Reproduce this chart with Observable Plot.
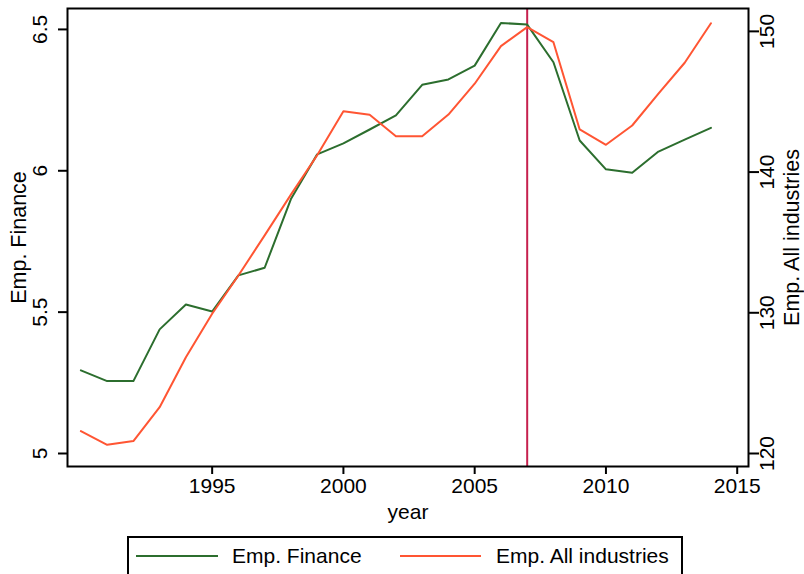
<!DOCTYPE html>
<html>
<head>
<meta charset="utf-8">
<script src="https://cdn.jsdelivr.net/npm/d3@7"></script>
<script src="https://cdn.jsdelivr.net/npm/@observablehq/plot@0.6"></script>
<style>
  html, body { margin: 0; padding: 0; background: #fff; }
  #chart svg { display: block; }
  #legend { display: block; }
</style>
</head>
<body>
<div id="chart"></div>
<svg id="legend" width="804" height="42"></svg>
<script>
// ---- data ----
const years = [1990, 1991, 1992, 1993, 1994, 1995, 1996, 1997, 1998, 1999,
               2000, 2001, 2002, 2003, 2004, 2005, 2006, 2007, 2008, 2009,
               2010, 2011, 2012, 2013, 2014];
const empFinance = [5.294, 5.256, 5.256, 5.439, 5.527, 5.502, 5.630, 5.657, 5.900, 6.058,
                    6.097, 6.146, 6.196, 6.304, 6.323, 6.372, 6.523, 6.517, 6.384, 6.107,
                    6.005, 5.993, 6.068, 6.110, 6.152];
const empAll = [121.59, 120.62, 120.88, 123.29, 126.84, 129.93, 132.65, 135.5, 138.4, 141.2,
                144.33, 144.07, 142.55, 142.55, 144.09, 146.28, 148.95, 150.30, 149.23, 143.03,
                141.94, 143.31, 145.57, 147.77, 150.58];
const xTicks = [1995, 2000, 2005, 2010, 2015];
const leftTicks = [5, 5.5, 6, 6.5];
const rightTicks = [120, 130, 140, 150];
const markerYear = [2007];
const seriesNames = ["Emp. Finance", "Emp. All industries"];
const colors = ["#2c6e2e", "#ff5533"];
const ruleColor = "#c6204e";

// map the right-hand (All industries) values onto the left scale
const toLeft = v => 5 + (v - 120) * 0.04977;

const rows = years.map((y, i) => ({year: y, fin: empFinance[i], all: toLeft(empAll[i])}));

const font = "'Liberation Sans', Arial, Helvetica, sans-serif";

const chart = Plot.plot({
  width: 804,
  height: 532,
  marginLeft: 67,
  marginRight: 56,
  marginTop: 8,
  marginBottom: 66,
  style: {fontFamily: font, fontSize: "21px", color: "#000", background: "#fff"},
  x: {domain: [1989.49, 2015.43]},
  y: {domain: [4.954, 6.574]},
  marks: [
    Plot.axisX({ticks: xTicks, tickSize: 8, tickPadding: 4, tickFormat: d => String(d),
                label: null, fontSize: 21, strokeWidth: 2}),
    Plot.axisY({anchor: "left", ticks: leftTicks, tickSize: 9, tickFormat: () => "",
                label: null, strokeWidth: 2}),
    Plot.axisY({anchor: "right", ticks: rightTicks.map(toLeft), tickSize: 10, tickFormat: () => "",
                label: null, strokeWidth: 2}),
    // rotated tick labels
    Plot.text(leftTicks, {y: d => d, text: d => String(d), frameAnchor: "left", dx: -20.5,
                          rotate: -90, lineAnchor: "bottom", textAnchor: "middle", fontSize: 21, fill: "#000"}),
    Plot.text(rightTicks, {y: d => toLeft(d), text: d => String(d), frameAnchor: "right", dx: 25,
                           rotate: -90, lineAnchor: "bottom", textAnchor: "middle", fontSize: 21, fill: "#000"}),
    // axis titles
    Plot.text([seriesNames[0]], {text: d => d, frameAnchor: "left", dx: -42, rotate: -90,
                                 lineAnchor: "bottom", textAnchor: "middle", fontSize: 21.5, fill: "#000"}),
    Plot.text([seriesNames[1]], {text: d => d, frameAnchor: "right", dx: 50, rotate: -90,
                                 lineAnchor: "bottom", textAnchor: "middle", fontSize: 21.5, fill: "#000"}),
    Plot.text(["year"], {text: d => d, frameAnchor: "bottom", dy: 52, lineAnchor: "bottom",
                         textAnchor: "middle", fontSize: 21, fill: "#000"}),
    // data
    Plot.ruleX(markerYear, {stroke: ruleColor, strokeWidth: 2}),
    Plot.line(rows, {x: "year", y: "fin", stroke: colors[0], strokeWidth: 2}),
    Plot.line(rows, {x: "year", y: "all", stroke: colors[1], strokeWidth: 2}),
    Plot.frame({stroke: "#000", strokeWidth: 2})
  ]
});
document.getElementById("chart").appendChild(chart);

// ---- legend (below the plot) ----
const lg = d3.select("#legend");
lg.append("rect").attr("x", 128).attr("y", 5).attr("width", 554).attr("height", 50)
  .attr("fill", "#fff").attr("stroke", "#000").attr("stroke-width", 2);
const items = [
  {name: seriesNames[0], color: colors[0], x1: 136, x2: 218, tx: 232},
  {name: seriesNames[1], color: colors[1], x1: 400, x2: 481, tx: 496}
];
items.forEach(it => {
  lg.append("line").attr("x1", it.x1).attr("x2", it.x2).attr("y1", 24).attr("y2", 24)
    .attr("stroke", it.color).attr("stroke-width", 2);
  lg.append("text").attr("x", it.tx).attr("y", 31).text(it.name)
    .attr("font-family", font).attr("font-size", 21).attr("fill", "#000");
});
</script>
</body>
</html>
